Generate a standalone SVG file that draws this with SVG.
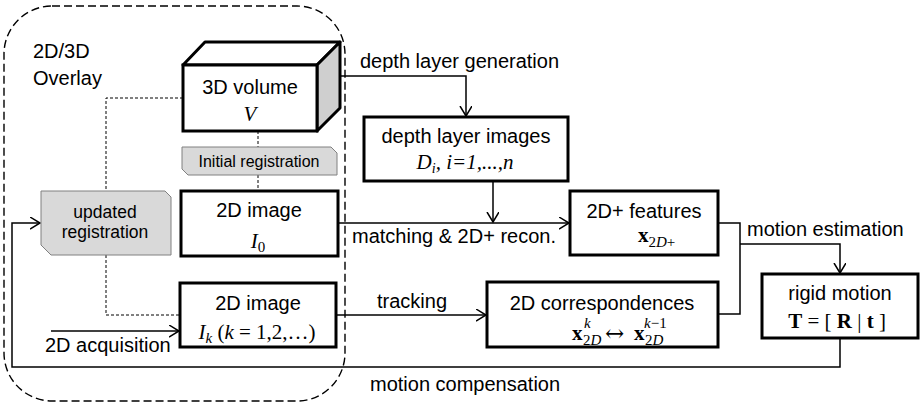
<svg xmlns="http://www.w3.org/2000/svg" width="923" height="404" viewBox="0 0 923 404">
<defs>
<marker id="arr" markerUnits="userSpaceOnUse" markerWidth="14" markerHeight="14" refX="10" refY="6" orient="auto">
<path d="M0,0 L10,6 L0,12" fill="none" stroke="#000" stroke-width="1.5"/>
</marker>
<style>
.lbl{font-family:"Liberation Sans",Arial,sans-serif;font-size:20px;fill:#000}
.sm{font-family:"Liberation Sans",Arial,sans-serif;font-size:16px;fill:#000}
.md{font-family:"Liberation Sans",Arial,sans-serif;font-size:17.5px;fill:#000}
.math{font-family:"Liberation Serif","Times New Roman",serif;font-size:21px;fill:#000}
.sub{font-family:"Liberation Serif","Times New Roman",serif;font-size:15px;fill:#000}
.box{fill:#fff;stroke:#000;stroke-width:3}
.tag{fill:#d9d9d9;stroke:#808080;stroke-width:1}
.con{fill:none;stroke:#000;stroke-width:1.5}
.dot{fill:none;stroke:#000;stroke-width:1;stroke-dasharray:3 2}
.it{font-style:italic}
.b{font-weight:bold}
</style>
</defs>
<rect x="4" y="6" width="341" height="395" rx="48" ry="48" fill="none" stroke="#000" stroke-width="1.4" stroke-dasharray="8 4"/>
<text class="lbl" x="33" y="58">2D/3D</text>
<text class="lbl" x="33" y="85">Overlay</text>
<g id="connectors">
<path class="dot" d="M183,98 H106 V191"/>
<path class="dot" d="M106,255 V315 H180"/>
<path class="dot" d="M258,131 V147"/>
<path class="dot" d="M258,175 V191"/>
<path class="con" d="M340,76 H466 V116" marker-end="url(#arr)"/>
<path class="con" d="M493,181 V222" marker-end="url(#arr)"/>
<path class="con" d="M338,223 H569" marker-end="url(#arr)"/>
<path class="con" d="M336,315 H486" marker-end="url(#arr)"/>
<path class="con" d="M718,223 H740 V314 H718"/>
<path class="con" d="M740,244 H840 V273" marker-end="url(#arr)"/>
<path class="con" d="M840,338 V367 H12 V223 H40" marker-end="url(#arr)"/>
<path class="con" d="M51,331 H179" marker-end="url(#arr)"/>
<text class="lbl" x="360" y="68">depth layer generation</text>
<text class="lbl" x="352" y="243">matching &amp; 2D+ recon.</text>
<text class="lbl" x="377" y="308">tracking</text>
<text class="lbl" x="747" y="236">motion estimation</text>
<text class="lbl" x="370" y="391">motion compensation</text>
<text class="lbl" x="45" y="352">2D acquisition</text>
</g>
<g id="volume">
<polygon points="183,65 205,42 340,42 317,65" fill="#fff" stroke="#000" stroke-width="3" stroke-linejoin="round"/>
<polygon points="317,65 340,42 340,108 317,131" fill="#cfcfcf" stroke="#000" stroke-width="3" stroke-linejoin="round"/>
<rect class="box" x="183" y="65" width="134" height="66"/>
<text class="lbl" x="250" y="94" text-anchor="middle">3D volume</text>
<text class="math it" x="250" y="121" text-anchor="middle">V</text>
</g>
<g id="initreg">
<polygon class="tag" points="182,147 331,147 337,153 337,175 188,175 182,169"/>
<text class="sm" x="259" y="167" text-anchor="middle">Initial registration</text>
</g>
<g id="updreg">
<polygon class="tag" points="41,191 165,191 171,197 171,255 51,255 41,245"/>
<text class="md" x="105" y="218" text-anchor="middle">updated</text>
<text class="md" x="105" y="238" text-anchor="middle">registration</text>
</g>
<g id="img0">
<rect class="box" x="181" y="191" width="157" height="65"/>
<text class="lbl" x="259" y="217" text-anchor="middle">2D image</text>
<text class="math" x="258" y="248" text-anchor="middle"><tspan class="it">I</tspan><tspan font-size="15" dy="4">0</tspan></text>
</g>
<g id="imgk">
<rect class="box" x="180" y="283" width="156" height="64"/>
<text class="lbl" x="258" y="310" text-anchor="middle">2D image</text>
<text class="math" x="257" y="339" text-anchor="middle"><tspan class="it">I</tspan><tspan class="it" font-size="15" dy="4">k</tspan><tspan dy="-4"> (</tspan><tspan class="it">k</tspan><tspan> = 1,2,…)</tspan></text>
</g>
<g id="depth">
<rect class="box" x="364" y="117" width="204" height="64"/>
<text class="lbl" x="466" y="143" text-anchor="middle">depth layer images</text>
<text class="math it" x="465" y="169" text-anchor="middle">D<tspan font-size="14" dy="4">i</tspan><tspan dy="-4">, i=1,...,n</tspan></text>
</g>
<g id="feat">
<rect class="box" x="570" y="191" width="148" height="64"/>
<text class="lbl" x="644" y="218" text-anchor="middle">2D+ features</text>
<text class="math" x="638" y="242"><tspan class="b">x</tspan><tspan font-size="15" dy="5">2<tspan class="it">D</tspan>+</tspan></text>
</g>
<g id="corr">
<rect class="box" x="487" y="282" width="231" height="65"/>
<text class="lbl" x="602" y="310" text-anchor="middle">2D correspondences</text>
<text class="math b" x="572" y="340">x</text>
<text class="sub it" x="584" y="328" font-size="13">k</text>
<text class="sub" x="583" y="345">2<tspan class="it">D</tspan></text>
<text x="605" y="341" font-family="'DejaVu Serif','Liberation Serif',serif" font-size="23">↔</text>
<text class="math b" x="634" y="340">x</text>
<text class="sub" x="644" y="328" font-size="13"><tspan class="it">k</tspan>−1</text>
<text class="sub" x="645" y="345">2<tspan class="it">D</tspan></text>
</g>
<g id="rigid">
<rect class="box" x="762" y="274" width="156" height="64"/>
<text class="lbl" x="840" y="300" text-anchor="middle">rigid motion</text>
<text class="math" x="837" y="328" text-anchor="middle"><tspan class="b">T</tspan> = [ <tspan class="b">R</tspan> | <tspan class="b">t</tspan> ]</text>
</g>
</svg>
